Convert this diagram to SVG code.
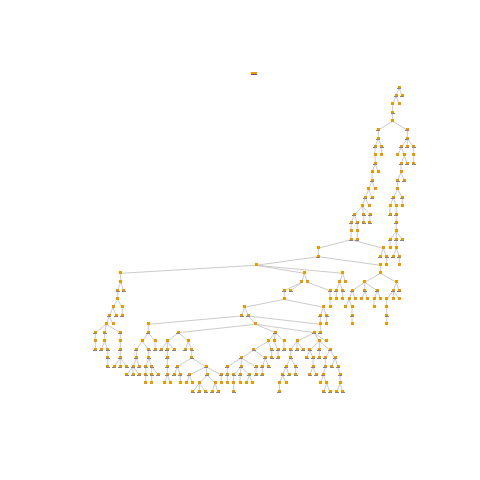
<svg xmlns="http://www.w3.org/2000/svg" width="480" height="480" viewBox="0 0 480 480">
<style>
#connectors path{fill:none;stroke:#b4b4b4;stroke-width:.7}
.o{fill:#e89a00;shape-rendering:crispEdges}
.b{fill:#94807a;shape-rendering:crispEdges}
</style>
<defs>
<g id="nd"><rect class="o" x="-1.5" y="-2" width="3" height="3"/><rect class="b" x="-2" y=".4" width="4" height=".6"/></g>
</defs>
<rect width="480" height="480" fill="#fff"/>
<g id="connectors">
<path d="M399 87.5L396 96M399 87.5L402 96M396 96L392.7 104.3M396 96L399 104.3M392.7 104.3V121.3M392.7 121.3L378.3 130M392.7 121.3L407.3 130M378.3 130V138.7M378.3 138.7L375 147M378.3 138.7L381.7 147M375 147V155.3M381.7 147V155.3M375 155.3L375.3 163.7M375.3 163.7L372 172.3M375.3 163.7L378.3 172.3M372 172.3V180.7M372 180.7L368.7 189.3M372 180.7L375 189.3M368.7 189.3L365.3 197.7M368.7 189.3L372 197.7M365.3 197.7L362.3 206.3M365.3 197.7L369 206.3M362.3 206.3L354.3 214.7M362.3 206.3L363.7 214.7M362.3 206.3L370 214.7M354.3 214.7L351 223M354.3 214.7L357.3 223M363.7 214.7V223M370 214.7L369.7 223M351 223V239.7M357.3 223V239.7"/>
<path d="M407.3 130V138.7M407.3 138.7L401.3 147M407.3 138.7V147M407.3 138.7L413.7 147M401.3 147L397.7 155.3M401.3 147L404.3 155.3M413.7 147V163.7M404.3 155.3L401 163.7M404.3 155.3L407.3 163.7M401 163.7V172.3M401 172.3L397.7 180.7M401 172.3L404.3 180.7M397.7 180.7V189.3M397.7 189.3L393.3 197.7M397.7 189.3L402.3 197.7M393.3 197.7L390 206.3M393.3 197.7L396.3 206.3M402.3 197.7V206.3M390 206.3V214.7M396.3 206.3V231.3M396.3 231.3L390 239.7M396.3 231.3V239.7M396.3 231.3L402.3 239.7M390 239.7V248.3M396.3 239.7V248.3M396.3 248.3L393 256.7M396.3 248.3L399.3 256.7M399.3 256.7V265.3"/>
<path d="M351 239.7L318.3 248.3M351 239.7L383.3 248.3M383.3 248.3L380.3 256.7M383.3 248.3L386.7 256.7M386.7 256.7V265.3M318.3 248.3V256.7M318.3 256.7L256 265.3M318.3 256.7L380.7 265.3M380.7 265.3V273.3M380.7 273.3L364.7 282.3M380.7 273.3L396.3 282.3M364.7 282.3L352.3 290.7M364.7 282.3V290.7M364.7 282.3L377.3 290.7M396.3 282.3L393.3 290.7M396.3 282.3L399.3 290.7M352.3 290.7L349 299.3M352.3 290.7L355.3 299.3M364.7 290.7L361.7 299.3M364.7 290.7L367.7 299.3M377.3 290.7L374 299.3M377.3 290.7L380.7 299.3M393.3 290.7L386.7 299.3M393.3 290.7V299.3M393.3 290.7L399.3 299.3M349 299.3L345.7 307.3M349 299.3L352 307.3M374 299.3V307.3M386.7 299.3V324.3M352 307.3V324.3"/>
<path d="M256 265.3L120.7 273.3M256 265.3L304.3 273.3M256 265.3L342.7 273.3M342.7 273.3L339.3 282.3M342.7 273.3L345.7 282.3M339.3 282.3L336.3 290.7M339.3 282.3L342.7 290.7M336.3 290.7V299.3M342.7 290.7V299.3M304.3 273.3L301.7 282.3M304.3 273.3L307.7 282.3M301.7 282.3L284.3 290.7M301.7 282.3L290.7 290.7M307.7 282.3L330 290.7M330 290.7V307.3M284.3 290.7V299.3M284.3 299.3L244.7 307.3M284.3 299.3L323.3 307.3M244.7 307.3L241.5 316M244.7 307.3L248.3 316M323.3 307.3L320.3 316M323.3 307.3L326.7 316M326.7 316V324.3M320.3 316V332.7M241.5 316L148.3 324.3M248.3 316L255.7 324.3M248.3 316L320.3 324.3M255.7 324.3L178.3 332.7M255.7 324.3L275.3 332.7M255.7 324.3L314.3 332.7"/>
<path d="M275.3 332.7L268 341.3M275.3 332.7L274 341.3M275.3 332.7L284 341.3M314.3 332.7L297 341.3M314.3 332.7L319.3 341.3M314.3 332.7L326 341.3M268 341.3L253.7 350M268 341.3L271.7 350M274 341.3L278 350M284 341.3V350M297 341.3L290.7 350M297 341.3V350M297 341.3L303 350M319.3 341.3L309.7 350M319.3 341.3V350M319.3 341.3L330 350M253.7 350L241.3 358M253.7 350L265.3 358M271.7 350V358M278 350V358M290.7 350V358M309.7 350L306.7 358M309.7 350L313 358M319.3 350V358M330 350L325.3 358M330 350L335 358M241.3 358L227.3 366.7M241.3 358V366.7M241.3 358L256 366.7M265.3 358L262.3 366.7M265.3 358L268.7 366.7M290.7 358L286 366.7M290.7 358L295.7 366.7M313 358V366.7M325.3 358V366.7M335 358L331.7 366.7M335 358L338 366.7"/>
<path d="M227.3 366.7V383.3M241.3 366.7L233.7 375M241.3 366.7L240 375M241.3 366.7L249.3 375M256 366.7V375M262.3 366.7V375M286 366.7L282.7 375M286 366.7L289 375M295.7 366.7V375M313 366.7L309.7 375M313 366.7L316 375M325.3 366.7L323.3 375M338 366.7L340 375M221.3 375V383.3M233.7 375V392M240 375V383.3M249.3 375L246.7 383.3M249.3 375L252.7 383.3M282.7 375L279.3 383.3M282.7 375L286 383.3M279.3 383.3V392M323.3 375L320.7 383.3M323.3 375L326.7 383.3M340 375V383.3M326.7 383.3L323.7 392M326.7 383.3L330 392M340 383.3L336.7 392M340 383.3L342.7 392"/>
<path d="M178.3 332.7L167.3 341.3M178.3 332.7L188.3 341.3M167.3 341.3L161.3 349.7M167.3 341.3V358M167.3 341.3L174 349.7M188.3 341.3L185.3 349.7M188.3 341.3L191.7 349.7M191.7 349.7V358M167.3 358V375M191.7 358L177.3 366.7M191.7 358L206 366.7M177.3 366.7L174 375M177.3 366.7L180.3 375M206 366.7L189.3 375M206 366.7L207.3 375M206 366.7L221.3 375M167.3 375L164.5 383.3M167.3 375L170.7 383.3M180.3 375V383.3M189.3 375L186.7 383.3M189.3 375L192.7 383.3M207.3 375L199.3 383.3M207.3 375L215 383.3M199.3 383.3L192.7 391.8M199.3 383.3V391.8M199.3 383.3L205.7 391.8M215 383.3L212 391.8M215 383.3L218 391.8"/>
<path d="M120.7 273.3V282.3M120.7 282.3L117.7 290.7M120.7 282.3L123.7 290.7M117.7 290.7V299.3M117.7 299.3L113 307.3M117.7 299.3L122.3 307.3M122.3 307.3V316M113 307.3L109.3 316M113 307.3L116.3 316M109.3 316L106.3 324.3M109.3 316L113 324.3M106.3 324.3L95.3 332.7M106.3 324.3L104.7 332.7M106.3 324.3L120.3 332.7M95.3 332.7V349.7M104.7 332.7V341.3M104.7 341.3L101.3 349.7M104.7 341.3L107.7 349.7M120.3 332.7V358M107.7 349.7V366.7M120.3 358L114 366.7M120.3 358V366.7M120.3 358L126.7 366.7"/>
<path d="M148.3 324.3V332.7M148.3 332.7L142.3 341.3M148.3 332.7L155 341.3M155 341.3V349.7M142.3 341.3L136.3 349.7M142.3 341.3L148.7 349.7M136.3 349.7V358M148.7 349.7V358M136.3 358L133 366.7M136.3 358L139.3 366.7M148.7 358L145.7 366.7M148.7 358L151.7 366.7M133 366.7L126.7 375M133 366.7V375M133 366.7L139.3 375M145.7 366.7V383.3M151.7 366.7V383.3M151.7 366.7L158.3 375"/>
</g>
<g id="n-top"><rect class="o" x="251" y="72" width="6" height="2"/><rect x="251" y="74" width="6" height="1" fill="#7d4a70" shape-rendering="crispEdges"/></g>
<g id="nodes">
<use id="n1" href="#nd" x="399" y="87.5"/><use id="n2" href="#nd" x="396" y="96"/><use id="n3" href="#nd" x="402" y="96"/><use id="n4" href="#nd" x="392.7" y="104.3"/><use id="n5" href="#nd" x="399" y="104.3"/><use id="n6" href="#nd" x="392.7" y="112.7"/><use id="n7" href="#nd" x="392.7" y="121.3"/><use id="n8" href="#nd" x="378.3" y="130"/><use id="n9" href="#nd" x="407.3" y="130"/><use id="n10" href="#nd" x="378.3" y="138.7"/><use id="n11" href="#nd" x="407.3" y="138.7"/><use id="n12" href="#nd" x="375" y="147"/><use id="n13" href="#nd" x="381.7" y="147"/><use id="n14" href="#nd" x="401.3" y="147"/><use id="n15" href="#nd" x="407.3" y="147"/><use id="n16" href="#nd" x="413.7" y="147"/><use id="n17" href="#nd" x="375" y="155.3"/><use id="n18" href="#nd" x="381.7" y="155.3"/><use id="n19" href="#nd" x="397.7" y="155.3"/><use id="n20" href="#nd" x="404.3" y="155.3"/><use id="n21" href="#nd" x="413.7" y="155.3"/><use id="n22" href="#nd" x="375.3" y="163.7"/><use id="n23" href="#nd" x="401" y="163.7"/><use id="n24" href="#nd" x="407.3" y="163.7"/><use id="n25" href="#nd" x="413.7" y="163.7"/><use id="n26" href="#nd" x="372" y="172.3"/><use id="n27" href="#nd" x="378.3" y="172.3"/><use id="n28" href="#nd" x="401" y="172.3"/><use id="n29" href="#nd" x="372" y="180.7"/><use id="n30" href="#nd" x="397.7" y="180.7"/><use id="n31" href="#nd" x="404.3" y="180.7"/><use id="n32" href="#nd" x="368.7" y="189.3"/><use id="n33" href="#nd" x="375" y="189.3"/><use id="n34" href="#nd" x="397.7" y="189.3"/><use id="n35" href="#nd" x="365.3" y="197.7"/><use id="n36" href="#nd" x="372" y="197.7"/><use id="n37" href="#nd" x="393.3" y="197.7"/><use id="n38" href="#nd" x="402.3" y="197.7"/><use id="n39" href="#nd" x="362.3" y="206.3"/><use id="n40" href="#nd" x="369" y="206.3"/><use id="n41" href="#nd" x="390" y="206.3"/><use id="n42" href="#nd" x="396.3" y="206.3"/><use id="n43" href="#nd" x="402.3" y="206.3"/><use id="n44" href="#nd" x="354.3" y="214.7"/><use id="n45" href="#nd" x="363.7" y="214.7"/><use id="n46" href="#nd" x="370" y="214.7"/><use id="n47" href="#nd" x="390" y="214.7"/><use id="n48" href="#nd" x="396.3" y="214.7"/><use id="n49" href="#nd" x="351" y="223"/><use id="n50" href="#nd" x="357.3" y="223"/><use id="n51" href="#nd" x="363.7" y="223"/><use id="n52" href="#nd" x="369.7" y="223"/><use id="n53" href="#nd" x="396.3" y="223"/><use id="n54" href="#nd" x="351" y="231.3"/><use id="n55" href="#nd" x="357.3" y="231.3"/><use id="n56" href="#nd" x="396.3" y="231.3"/><use id="n57" href="#nd" x="351" y="239.7"/><use id="n58" href="#nd" x="357.3" y="239.7"/><use id="n59" href="#nd" x="390" y="239.7"/><use id="n60" href="#nd" x="396.3" y="239.7"/><use id="n61" href="#nd" x="402.3" y="239.7"/><use id="n62" href="#nd" x="318.3" y="248.3"/><use id="n63" href="#nd" x="383.3" y="248.3"/><use id="n64" href="#nd" x="390" y="248.3"/><use id="n65" href="#nd" x="396.3" y="248.3"/><use id="n66" href="#nd" x="318.3" y="256.7"/><use id="n67" href="#nd" x="380.3" y="256.7"/><use id="n68" href="#nd" x="386.7" y="256.7"/><use id="n69" href="#nd" x="393" y="256.7"/><use id="n70" href="#nd" x="399.3" y="256.7"/><use id="n71" href="#nd" x="256" y="265.3"/><use id="n72" href="#nd" x="380.7" y="265.3"/><use id="n73" href="#nd" x="386.7" y="265.3"/><use id="n74" href="#nd" x="399.3" y="265.3"/><use id="n75" href="#nd" x="120.7" y="273.3"/><use id="n76" href="#nd" x="304.3" y="273.3"/><use id="n77" href="#nd" x="342.7" y="273.3"/><use id="n78" href="#nd" x="380.7" y="273.3"/><use id="n79" href="#nd" x="120.7" y="282.3"/><use id="n80" href="#nd" x="301.7" y="282.3"/><use id="n81" href="#nd" x="307.7" y="282.3"/><use id="n82" href="#nd" x="339.3" y="282.3"/><use id="n83" href="#nd" x="345.7" y="282.3"/><use id="n84" href="#nd" x="364.7" y="282.3"/><use id="n85" href="#nd" x="396.3" y="282.3"/><use id="n86" href="#nd" x="117.7" y="290.7"/><use id="n87" href="#nd" x="123.7" y="290.7"/><use id="n88" href="#nd" x="284.3" y="290.7"/><use id="n89" href="#nd" x="290.7" y="290.7"/><use id="n90" href="#nd" x="330" y="290.7"/><use id="n91" href="#nd" x="336.3" y="290.7"/><use id="n92" href="#nd" x="342.7" y="290.7"/><use id="n93" href="#nd" x="352.3" y="290.7"/><use id="n94" href="#nd" x="364.7" y="290.7"/><use id="n95" href="#nd" x="377.3" y="290.7"/><use id="n96" href="#nd" x="393.3" y="290.7"/><use id="n97" href="#nd" x="399.3" y="290.7"/><use id="n98" href="#nd" x="117.7" y="299.3"/><use id="n99" href="#nd" x="284.3" y="299.3"/><use id="n100" href="#nd" x="330" y="299.3"/><use id="n101" href="#nd" x="336.3" y="299.3"/><use id="n102" href="#nd" x="342.7" y="299.3"/><use id="n103" href="#nd" x="349" y="299.3"/><use id="n104" href="#nd" x="355.3" y="299.3"/><use id="n105" href="#nd" x="361.7" y="299.3"/><use id="n106" href="#nd" x="367.7" y="299.3"/><use id="n107" href="#nd" x="374" y="299.3"/><use id="n108" href="#nd" x="380.7" y="299.3"/><use id="n109" href="#nd" x="386.7" y="299.3"/><use id="n110" href="#nd" x="393.3" y="299.3"/><use id="n111" href="#nd" x="399.3" y="299.3"/>
<use id="n112" href="#nd" x="113" y="307.3"/><use id="n113" href="#nd" x="122.3" y="307.3"/><use id="n114" href="#nd" x="244.7" y="307.3"/><use id="n115" href="#nd" x="323.3" y="307.3"/><use id="n116" href="#nd" x="330" y="307.3"/><use id="n117" href="#nd" x="345.7" y="307.3"/><use id="n118" href="#nd" x="352" y="307.3"/><use id="n119" href="#nd" x="374" y="307.3"/><use id="n120" href="#nd" x="386.7" y="307.3"/><use id="n121" href="#nd" x="109.3" y="316"/><use id="n122" href="#nd" x="116.3" y="316"/><use id="n123" href="#nd" x="122.3" y="316"/><use id="n124" href="#nd" x="241.5" y="316"/><use id="n125" href="#nd" x="248.3" y="316"/><use id="n126" href="#nd" x="320.3" y="316"/><use id="n127" href="#nd" x="326.7" y="316"/><use id="n128" href="#nd" x="352" y="316"/><use id="n129" href="#nd" x="386.7" y="316"/><use id="n130" href="#nd" x="106.3" y="324.3"/><use id="n131" href="#nd" x="113" y="324.3"/><use id="n132" href="#nd" x="148.3" y="324.3"/><use id="n133" href="#nd" x="255.7" y="324.3"/><use id="n134" href="#nd" x="320.3" y="324.3"/><use id="n135" href="#nd" x="326.7" y="324.3"/><use id="n136" href="#nd" x="352" y="324.3"/><use id="n137" href="#nd" x="386.7" y="324.3"/><use id="n138" href="#nd" x="95.3" y="332.7"/><use id="n139" href="#nd" x="104.7" y="332.7"/><use id="n140" href="#nd" x="120.3" y="332.7"/><use id="n141" href="#nd" x="148.3" y="332.7"/><use id="n142" href="#nd" x="178.3" y="332.7"/><use id="n143" href="#nd" x="275.3" y="332.7"/><use id="n144" href="#nd" x="314.3" y="332.7"/><use id="n145" href="#nd" x="320.3" y="332.7"/><use id="n146" href="#nd" x="95.3" y="341.3"/><use id="n147" href="#nd" x="104.7" y="341.3"/><use id="n148" href="#nd" x="120.3" y="341.3"/><use id="n149" href="#nd" x="142.3" y="341.3"/><use id="n150" href="#nd" x="155" y="341.3"/><use id="n151" href="#nd" x="167.3" y="341.3"/><use id="n152" href="#nd" x="188.3" y="341.3"/><use id="n153" href="#nd" x="268" y="341.3"/><use id="n154" href="#nd" x="274" y="341.3"/><use id="n155" href="#nd" x="284" y="341.3"/><use id="n156" href="#nd" x="297" y="341.3"/><use id="n157" href="#nd" x="319.3" y="341.3"/><use id="n158" href="#nd" x="326" y="341.3"/><use id="n159" href="#nd" x="95.3" y="349.7"/><use id="n160" href="#nd" x="101.3" y="349.7"/><use id="n161" href="#nd" x="107.7" y="349.7"/><use id="n162" href="#nd" x="120.3" y="349.7"/><use id="n163" href="#nd" x="136.3" y="349.7"/><use id="n164" href="#nd" x="148.7" y="349.7"/><use id="n165" href="#nd" x="155" y="349.7"/><use id="n166" href="#nd" x="161.3" y="349.7"/><use id="n167" href="#nd" x="167.3" y="349.7"/><use id="n168" href="#nd" x="174" y="349.7"/><use id="n169" href="#nd" x="185.3" y="349.7"/><use id="n170" href="#nd" x="191.7" y="349.7"/><use id="n171" href="#nd" x="253.7" y="350"/><use id="n172" href="#nd" x="271.7" y="350"/><use id="n173" href="#nd" x="278" y="350"/><use id="n174" href="#nd" x="284" y="350"/><use id="n175" href="#nd" x="290.7" y="350"/><use id="n176" href="#nd" x="297" y="350"/><use id="n177" href="#nd" x="303" y="350"/><use id="n178" href="#nd" x="309.7" y="350"/><use id="n179" href="#nd" x="319.3" y="350"/><use id="n180" href="#nd" x="330" y="350"/><use id="n181" href="#nd" x="107.7" y="358"/><use id="n182" href="#nd" x="120.3" y="358"/><use id="n183" href="#nd" x="136.3" y="358"/><use id="n184" href="#nd" x="148.7" y="358"/><use id="n185" href="#nd" x="167.3" y="358"/><use id="n186" href="#nd" x="191.7" y="358"/><use id="n187" href="#nd" x="241.3" y="358"/><use id="n188" href="#nd" x="265.3" y="358"/><use id="n189" href="#nd" x="271.7" y="358"/><use id="n190" href="#nd" x="278" y="358"/><use id="n191" href="#nd" x="290.7" y="358"/><use id="n192" href="#nd" x="306.7" y="358"/><use id="n193" href="#nd" x="313" y="358"/><use id="n194" href="#nd" x="319.3" y="358"/><use id="n195" href="#nd" x="325.3" y="358"/><use id="n196" href="#nd" x="335" y="358"/>
<use id="n197" href="#nd" x="107.7" y="366.7"/><use id="n198" href="#nd" x="114" y="366.7"/><use id="n199" href="#nd" x="120.3" y="366.7"/><use id="n200" href="#nd" x="126.7" y="366.7"/><use id="n201" href="#nd" x="133" y="366.7"/><use id="n202" href="#nd" x="139.3" y="366.7"/><use id="n203" href="#nd" x="145.7" y="366.7"/><use id="n204" href="#nd" x="151.7" y="366.7"/><use id="n205" href="#nd" x="167.3" y="366.7"/><use id="n206" href="#nd" x="177.3" y="366.7"/><use id="n207" href="#nd" x="206" y="366.7"/><use id="n208" href="#nd" x="227.3" y="366.7"/><use id="n209" href="#nd" x="241.3" y="366.7"/><use id="n210" href="#nd" x="256" y="366.7"/><use id="n211" href="#nd" x="262.3" y="366.7"/><use id="n212" href="#nd" x="268.7" y="366.7"/><use id="n213" href="#nd" x="286" y="366.7"/><use id="n214" href="#nd" x="295.7" y="366.7"/><use id="n215" href="#nd" x="313" y="366.7"/><use id="n216" href="#nd" x="325.3" y="366.7"/><use id="n217" href="#nd" x="331.7" y="366.7"/><use id="n218" href="#nd" x="338" y="366.7"/><use id="n219" href="#nd" x="126.7" y="375"/><use id="n220" href="#nd" x="133" y="375"/><use id="n221" href="#nd" x="139.3" y="375"/><use id="n222" href="#nd" x="145.7" y="375"/><use id="n223" href="#nd" x="151.7" y="375"/><use id="n224" href="#nd" x="158.3" y="375"/><use id="n225" href="#nd" x="167.3" y="375"/><use id="n226" href="#nd" x="174" y="375"/><use id="n227" href="#nd" x="180.3" y="375"/><use id="n228" href="#nd" x="189.3" y="375"/><use id="n229" href="#nd" x="207.3" y="375"/><use id="n230" href="#nd" x="221.3" y="375"/><use id="n231" href="#nd" x="227.3" y="375"/><use id="n232" href="#nd" x="233.7" y="375"/><use id="n233" href="#nd" x="240" y="375"/><use id="n234" href="#nd" x="249.3" y="375"/><use id="n235" href="#nd" x="256" y="375"/><use id="n236" href="#nd" x="262.3" y="375"/><use id="n237" href="#nd" x="282.7" y="375"/><use id="n238" href="#nd" x="289" y="375"/><use id="n239" href="#nd" x="295.7" y="375"/><use id="n240" href="#nd" x="309.7" y="375"/><use id="n241" href="#nd" x="316" y="375"/><use id="n242" href="#nd" x="323.3" y="375"/><use id="n243" href="#nd" x="340" y="375"/><use id="n244" href="#nd" x="145.7" y="383.3"/><use id="n245" href="#nd" x="151.7" y="383.3"/><use id="n246" href="#nd" x="164.5" y="383.3"/><use id="n247" href="#nd" x="170.7" y="383.3"/><use id="n248" href="#nd" x="180.3" y="383.3"/><use id="n249" href="#nd" x="186.7" y="383.3"/><use id="n250" href="#nd" x="192.7" y="383.3"/><use id="n251" href="#nd" x="199.3" y="383.3"/><use id="n252" href="#nd" x="215" y="383.3"/><use id="n253" href="#nd" x="221.3" y="383.3"/><use id="n254" href="#nd" x="227.3" y="383.3"/><use id="n255" href="#nd" x="233.7" y="383.3"/><use id="n256" href="#nd" x="240" y="383.3"/><use id="n257" href="#nd" x="246.7" y="383.3"/><use id="n258" href="#nd" x="252.7" y="383.3"/><use id="n259" href="#nd" x="279.3" y="383.3"/><use id="n260" href="#nd" x="286" y="383.3"/><use id="n261" href="#nd" x="320.7" y="383.3"/><use id="n262" href="#nd" x="326.7" y="383.3"/><use id="n263" href="#nd" x="340" y="383.3"/><use id="n264" href="#nd" x="192.7" y="391.8"/><use id="n265" href="#nd" x="199.3" y="391.8"/><use id="n266" href="#nd" x="205.7" y="391.8"/><use id="n267" href="#nd" x="212" y="391.8"/><use id="n268" href="#nd" x="218" y="391.8"/><use id="n269" href="#nd" x="233.7" y="392"/><use id="n270" href="#nd" x="279.3" y="392"/><use id="n271" href="#nd" x="323.7" y="392"/><use id="n272" href="#nd" x="330" y="392"/><use id="n273" href="#nd" x="336.7" y="392"/><use id="n274" href="#nd" x="342.7" y="392"/>
</g>
</svg>
